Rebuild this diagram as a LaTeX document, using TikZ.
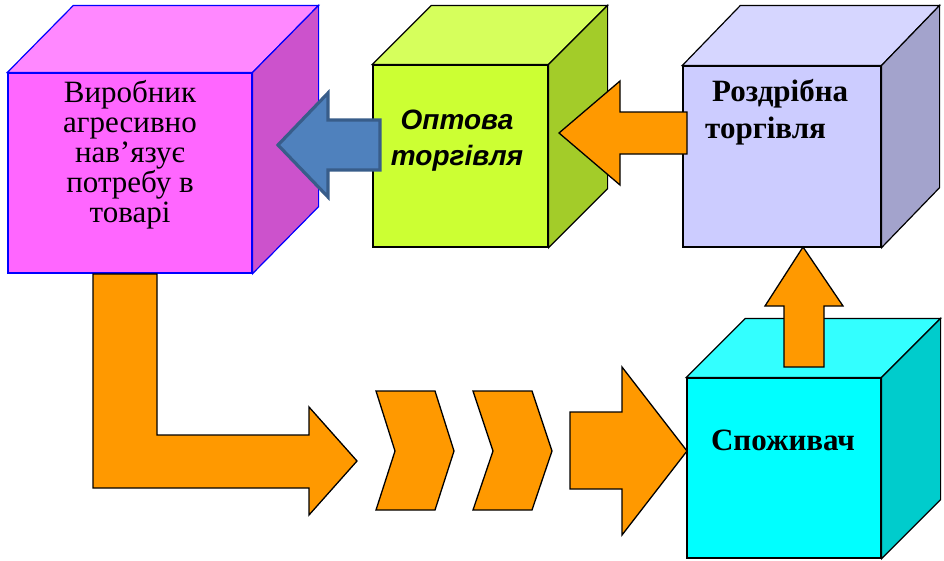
\documentclass[tikz,border=0pt]{standalone}
\usepackage{fontspec}
\setmainfont{Liberation Serif}
\newfontfamily\arialf{Liberation Sans}
\definecolor{magF}{HTML}{FF66FF}
\definecolor{magT}{HTML}{FF88FF}
\definecolor{magS}{HTML}{CC52CC}
\definecolor{limF}{HTML}{CCFF33}
\definecolor{limT}{HTML}{D6FF5C}
\definecolor{limS}{HTML}{A3CC29}
\definecolor{lavF}{HTML}{CCCCFF}
\definecolor{lavT}{HTML}{D6D6FF}
\definecolor{lavS}{HTML}{A3A3CC}
\definecolor{cyaF}{HTML}{00FFFF}
\definecolor{cyaT}{HTML}{33FFFF}
\definecolor{cyaS}{HTML}{00CCCC}
\definecolor{orng}{HTML}{FF9900}
\definecolor{blueF}{HTML}{4F81BD}
\definecolor{blueD}{HTML}{385D8A}
\newcommand\drawcube[6]{% name, dx, dy, front, top, side
  \filldraw[fill=#5] (#1.north west) -- ++(#2,#3) -- ++($(#1.north east)-(#1.north west)$) -- (#1.north east) -- cycle;
  \filldraw[fill=#6] (#1.north east) -- ++(#2,#3) -- ++($(#1.south east)-(#1.north east)$) -- (#1.south east) -- cycle;
}
\usetikzlibrary{calc}
\begin{document}
\begin{tikzpicture}[x=1pt,y=-1pt,
  face/.style={rectangle,inner sep=0pt,draw,line width=1.2pt},
  blk/.style={fill=orng,draw=black,line width=1.3pt,line join=miter},
  bluearrow/.style={fill=blueF,draw=blueD,line width=3.2pt,line join=miter},
  lbl/.style={inner sep=0pt,anchor=base}]
\useasboundingbox (0,0) rectangle (944,560);
% cubes
\node[face,draw=blue,fill=magF,minimum width=244pt,minimum height=200pt] (c1) at (130,173) {};
\begin{scope}[draw=blue,line width=1.2pt]\drawcube{c1}{66}{-67}{magF}{magT}{magS}\end{scope}
\node[face,fill=limF,minimum width=175pt,minimum height=182pt] (c2) at (460.5,156) {};
\begin{scope}[line width=1.2pt]\drawcube{c2}{59}{-59}{limF}{limT}{limS}\end{scope}
\node[face,fill=lavF,minimum width=198pt,minimum height=181pt] (c3) at (782,156.5) {};
\begin{scope}[line width=1.2pt]\drawcube{c3}{58}{-60}{lavF}{lavT}{lavS}\end{scope}
\node[face,fill=cyaF,minimum width=194pt,minimum height=180pt] (c4) at (784,468) {};
\begin{scope}[line width=1.2pt]\drawcube{c4}{59}{-59}{cyaF}{cyaT}{cyaS}\end{scope}
% texts
\node[lbl,align=center,font=\fontsize{31}{30}\selectfont] (t1) at (130,222)
  {Виробник\\агресивно\\нав’язує\\потребу в\\товарі};
\node[lbl,align=center,font=\arialf\bfseries\itshape\fontsize{28}{36}\selectfont] (t2) at (457,165)
  {Оптова\\торгівля};
\node[lbl,anchor=base west,font=\bfseries\fontsize{31}{37}\selectfont] (t3a) at (712,101) {Роздрібна};
\node[lbl,anchor=base west,font=\bfseries\fontsize{31}{37}\selectfont] (t3b) at (705,138) {торгівля};
\node[lbl,font=\bfseries\fontsize{31}{36}\selectfont] (t4) at (783,450) {Споживач};
% arrows
\filldraw[bluearrow] (278,145) -- (328,93) -- (328,120) -- (380,120) -- (380,170) -- (328,170) -- (328,197) -- cycle;
\filldraw[blk] (559,133) -- (620,81) -- (620,112) -- (687,112) -- (687,154) -- (620,154) -- (620,185) -- cycle;
\filldraw[blk] (803,247) -- (843,306) -- (824,306) -- (824,367) -- (784,367) -- (784,306) -- (765,306) -- cycle;
\filldraw[blk] (93,274) -- (157,274) -- (157,435) -- (309,435) -- (309,407) -- (357,461) -- (309,515) -- (309,488) -- (93,488) -- cycle;
\filldraw[blk] (376,391) -- (435,391) -- (454,451) -- (435,510) -- (376,510) -- (395,451) -- cycle;
\filldraw[blk] (473,391) -- (532,391) -- (552,451) -- (532,510) -- (473,510) -- (493,451) -- cycle;
\filldraw[blk] (570,412) -- (622,412) -- (622,367) -- (687,451) -- (622,535) -- (622,489) -- (570,489) -- cycle;
\end{tikzpicture}
\end{document}
